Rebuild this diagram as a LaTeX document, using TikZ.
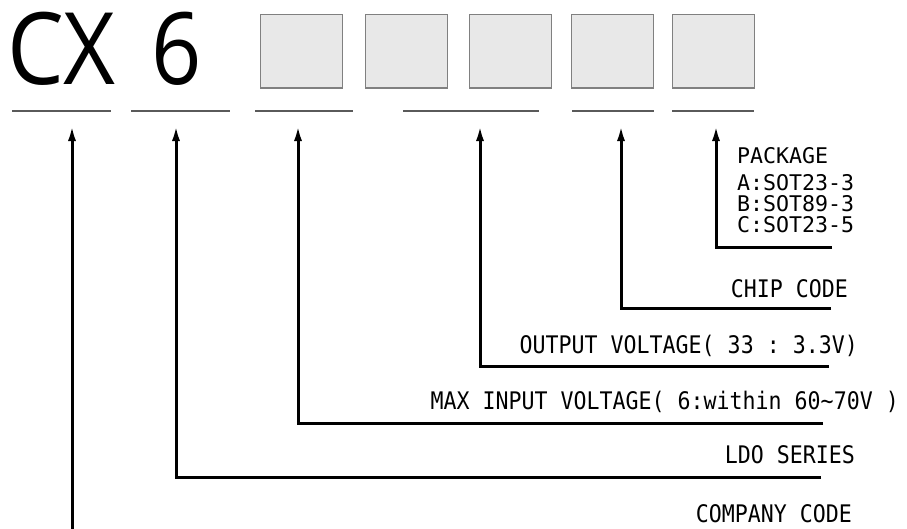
\documentclass[tikz,border=0pt]{standalone}
\usepackage{fontspec}
\setmainfont{Open Sans}
\setmonofont{DejaVu Sans Mono}
\usepackage{tikz}
\usetikzlibrary{positioning,arrows.meta}
\definecolor{slotfill}{RGB}{232,232,232}
\definecolor{slotedge}{RGB}{128,128,128}
\definecolor{rulegray}{RGB}{90,90,90}

\begin{document}
\begin{tikzpicture}[x=1pt,y=-1pt,
  slot/.style={draw=slotedge,fill=slotfill,line width=1.4pt,minimum width=82pt,minimum height=73.6pt,inner sep=0pt,anchor=north west},
  rulebar/.style={draw=rulegray,line width=2.8pt},
  lead/.style={line width=3pt,-{Latex[length=16pt,width=8pt]}},
  lbl/.style={font=\fontsize{21.6}{24}\selectfont\ttfamily,inner sep=0pt,yscale=1.12,transform shape},
  pkglist/.style={font=\fontsize{21.6}{21}\selectfont\ttfamily,inner sep=0pt,align=left,anchor=north west},
  bigchar/.style={font=\fontsize{100}{100}\selectfont,inner sep=0pt,anchor=base west}]
  \useasboundingbox (0,0) rectangle (907,528);
  \node[bigchar,xscale=0.9,transform shape] (cx) at (7,84) {CX};
  \node[bigchar,xscale=0.88,transform shape] (six) at (151,84) {6};
  \foreach \x [count=\i] in {260,365,469,571,672}{
    \node[slot] (box\i) at (\x,13.7) {};
  }
  \foreach \a/\b in {12/111,131/230,255/353,403/539,572/654,672/754}{
    \draw[rulebar] (\a,111) -- (\b,111);
  }
  \foreach \nm/\tx/\ex/\ey in {pkg/716/832/247,chip/621/831/308,out/480/829/366,max/298/823/423,ldo/176/821/477}{
    \coordinate (\nm-tip) at (\tx,125);
    \coordinate (\nm-end) at (\ex,\ey);
    \draw[lead] (\nm-end) -| (\nm-tip);
  }
  \coordinate (co-tip) at (72,125);
  \coordinate (co-foot) at (72,532);
  \draw[lead] (co-foot) -- (co-tip);
  \node[pkglist] (pkg-lbl) at (737,147) {PACKAGE\\[6pt]A:SOT23-3\\B:SOT89-3\\C:SOT23-5};
  \node[lbl,anchor=base east] (chip-lbl) at (848,297) {CHIP CODE};
  \node[lbl,anchor=base east] (out-lbl) at (858,353) {OUTPUT VOLTAGE( 33 : 3.3V)};
  \node[lbl,anchor=base east] (max-lbl) at (899,409) {MAX INPUT VOLTAGE( 6:within 60\textasciitilde70V )};
  \node[lbl,anchor=base east] (ldo-lbl) at (855,463) {LDO SERIES};
  \node[lbl,anchor=base east] (co-lbl) at (852,522) {COMPANY CODE};
\end{tikzpicture}
\end{document}
